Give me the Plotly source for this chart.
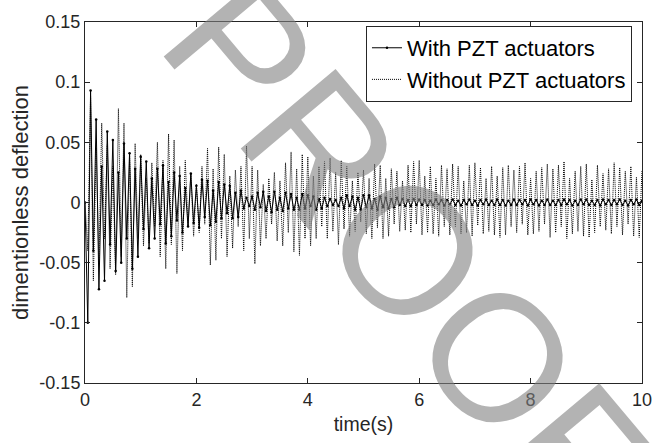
import numpy as np
import plotly.graph_objects as go

# ---- data (alternating swing extremes, every 0.05 s) ----
sample_step_s = 0.05

with_pzt = [
    0.000, -0.100, 0.093, -0.040, 0.069, -0.072, 0.030, -0.065, 0.059, -0.035,
    0.052, -0.057, 0.025, -0.050, 0.049, -0.030, 0.041, -0.055, 0.028, -0.045,
    0.038, -0.022, 0.034, -0.038, 0.020, -0.030, 0.028, -0.018, 0.031, -0.034,
    0.017, -0.028, 0.025, -0.015, 0.022, -0.025, 0.012, -0.020, 0.024, -0.017,
    0.014, -0.021, 0.019, -0.012, 0.018, -0.019, 0.010, -0.016, 0.017, -0.013,
    0.015, -0.009, 0.014, -0.013, 0.008, -0.012, 0.010, -0.005, 0.004, -0.003,
    0.005, -0.006, 0.008, -0.004, 0.009, -0.007, 0.005, -0.008, 0.009, -0.006,
    0.004, -0.007, 0.008, -0.005, 0.007, -0.006, 0.004, -0.006, 0.007, -0.005,
    0.006, -0.003, 0.005, -0.006, 0.003, -0.005, 0.004, -0.003, 0.003, -0.002,
    0.002, -0.003, 0.004, -0.005, 0.006, -0.003, 0.005, -0.006, 0.004, -0.006,
    0.006, -0.004, 0.006, -0.005, 0.003, -0.006, 0.005, -0.004, 0.004, -0.005,
    0.003, -0.004, 0.004, -0.002, 0.003, -0.003, 0.002, -0.003, 0.003, -0.002,
    0.0025, -0.002, 0.002, -0.0025, 0.0015, -0.002, 0.0025, -0.0015, 0.002, -0.0025,
    0.002, -0.0015, 0.0025, -0.002, 0.0015, -0.0025, 0.002, -0.0015, 0.0025, -0.002,
    0.0015, -0.0025, 0.002, -0.0015, 0.0025, -0.002, 0.0015, -0.002, 0.0025, -0.002,
    0.002, -0.0025, 0.0015, -0.002, 0.0025, -0.002, 0.002, -0.0015, 0.002, -0.0025,
    0.0025, -0.0015, 0.002, -0.0025, 0.0015, -0.002, 0.0025, -0.002, 0.0015, -0.002,
    0.002, -0.002, 0.0025, -0.0015, 0.002, -0.0025, 0.0015, -0.002, 0.0025, -0.0015,
    0.0025, -0.002, 0.0015, -0.002, 0.002, -0.0025, 0.0025, -0.0015, 0.002, -0.002,
    0.002, -0.0015, 0.0025, -0.002, 0.0015, -0.0025, 0.002, -0.0015, 0.0025, -0.002,
    0.0015,
]

without_pzt = [
    0.000, -0.040, 0.088, -0.065, 0.045, -0.050, 0.066, -0.030, 0.048, -0.055,
    0.030, -0.060, 0.078, -0.045, 0.066, -0.079, 0.040, -0.070, 0.049, -0.030,
    0.040, -0.036, 0.020, -0.034, 0.033, -0.020, 0.050, -0.045, 0.035, -0.055,
    0.057, -0.035, 0.052, -0.059, 0.030, -0.040, 0.035, -0.020, 0.024, -0.028,
    0.015, -0.025, 0.030, -0.018, 0.045, -0.052, 0.028, -0.048, 0.046, -0.030,
    0.040, -0.045, 0.022, -0.038, 0.027, -0.020, 0.030, -0.040, 0.047, -0.030,
    0.030, -0.051, 0.027, -0.036, 0.015, -0.030, 0.020, -0.018, 0.025, -0.032,
    0.018, -0.036, 0.033, -0.025, 0.042, -0.041, 0.028, -0.044, 0.040, -0.030,
    0.038, -0.036, 0.022, -0.030, 0.030, -0.020, 0.034, -0.030, 0.037, -0.024,
    0.025, -0.035, 0.035, -0.022, 0.030, -0.028, 0.018, -0.024, 0.025, -0.016,
    0.027, -0.026, 0.020, -0.030, 0.032, -0.021, 0.031, -0.030, 0.020, -0.028,
    0.028, -0.018, 0.026, -0.024, 0.018, -0.023, 0.031, -0.025, 0.034, -0.018,
    0.035, -0.027, 0.022, -0.025, 0.030, -0.026, 0.020, -0.028, 0.031, -0.020,
    0.028, -0.027, 0.032, -0.020, 0.030, -0.026, 0.018, -0.025, 0.031, -0.028,
    0.033, -0.019, 0.029, -0.026, 0.020, -0.024, 0.030, -0.027, 0.022, -0.029,
    0.029, -0.027, 0.031, -0.020, 0.027, -0.025, 0.030, -0.018, 0.033, -0.027,
    0.020, -0.026, 0.026, -0.024, 0.029, -0.018, 0.032, -0.029, 0.028, -0.025,
    0.031, -0.020, 0.034, -0.030, 0.020, -0.026, 0.026, -0.024, 0.030, -0.028,
    0.032, -0.029, 0.019, -0.025, 0.031, -0.020, 0.024, -0.023, 0.028, -0.026,
    0.033, -0.020, 0.029, -0.027, 0.026, -0.018, 0.030, -0.028, 0.021, -0.029,
    0.027,
]

x_tick_vals = [0, 2, 4, 6, 8, 10]
x_tick_text = ["0", "2", "4", "6", "8", "10"]
y_tick_vals = [-0.15, -0.1, -0.05, 0, 0.05, 0.1, 0.15]
y_tick_text = ["-0.15", "-0.1", "-0.05", "0", "0.05", "0.1", "0.15"]

time_s = np.round(np.arange(len(with_pzt)) * sample_step_s, 3)

FONT = "Arial, Liberation Sans, Helvetica, sans-serif"
AXIS_COLOR = "#262626"

fig = go.Figure()

fig.add_trace(go.Scatter(
    x=time_s, y=without_pzt, mode="lines", name="Without PZT actuators",
    line=dict(color="black", width=1, dash="1px,1px"),
    legendrank=2,
))
fig.add_trace(go.Scatter(
    x=time_s, y=with_pzt, mode="lines+markers", name="With PZT actuators",
    line=dict(color="black", width=1),
    marker=dict(color="black", size=2.5),
    legendrank=1,
))

axis_common = dict(
    showline=True, linecolor=AXIS_COLOR, linewidth=1, mirror="ticks",
    ticks="inside", ticklen=5, tickcolor=AXIS_COLOR, tickwidth=1,
    showgrid=False, zeroline=False,
    tickfont=dict(family=FONT, size=18, color="#262626"),
)

fig.update_layout(
    width=671, height=443,
    margin=dict(l=85, r=29, t=16, b=60),
    paper_bgcolor="white", plot_bgcolor="white",
    font=dict(family=FONT, color="#262626"),
    xaxis=dict(
        range=[0, 10], tickvals=x_tick_vals, ticktext=x_tick_text,
        title=dict(text="time(s)", font=dict(family=FONT, size=19.5, color="#262626"), standoff=8),
        **axis_common,
    ),
    yaxis=dict(
        range=[-0.15, 0.15], tickvals=y_tick_vals, ticktext=y_tick_text,
        title=dict(text="dimentionless deflection", font=dict(family=FONT, size=22, color="#262626"), standoff=4),
        **axis_common,
    ),
    legend=dict(
        x=0.982, y=0.989, xanchor="right", yanchor="top",
        bgcolor="white", bordercolor=AXIS_COLOR, borderwidth=1,
        font=dict(family=FONT, size=22, color="black"),
        itemwidth=30, tracegroupgap=0,
    ),
    showlegend=True,
)

# "PROOF" watermark
fig.add_annotation(
    text="PROOF", xref="paper", yref="paper", x=0.580, y=0.368,
    xanchor="center", yanchor="middle", showarrow=False, textangle=50,
    font=dict(family=FONT, size=180, color="rgba(128,128,128,0.6)"),
)

fig.write_html("out.html")
